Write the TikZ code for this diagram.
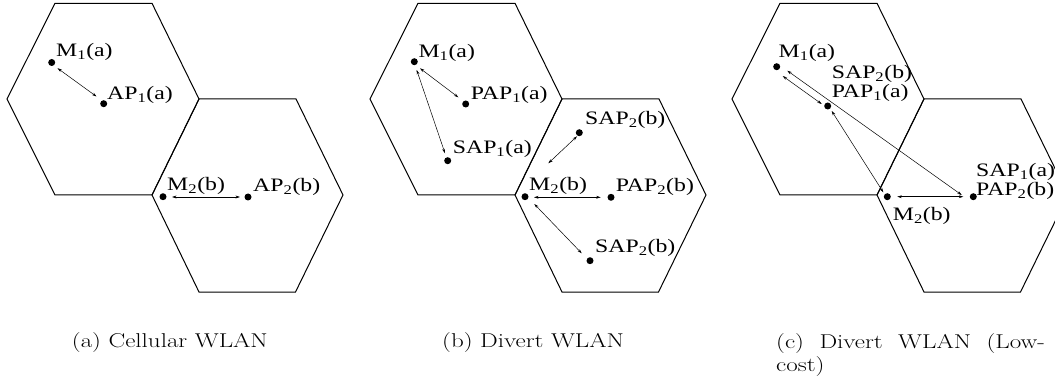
\documentclass[tikz,border=0pt]{standalone}
\usepackage{fontspec}
\usepackage{graphicx}
\usetikzlibrary{calc,arrows.meta}
\newfontfamily\tms{Liberation Serif}
\newcommand{\hsq}[1]{\scalebox{1.25}[1]{#1}}
\tikzset{
  hexa/.style={line width=1pt, line join=miter},
  dot/.style={circle, fill=black, inner sep=0pt, minimum size=7pt},
  lab/.style={anchor=base west, inner sep=0pt, font=\tms\fontsize{19}{21}\selectfont},
  captext/.style={anchor=base west, inner sep=0pt, font=\fontsize{20}{24}\selectfont},
  link/.style={line width=0.5pt, {Stealth[length=4.5pt,width=2.8pt]}-{Stealth[length=4.5pt,width=2.8pt]}},
}
\newcommand{\hexpair}{%
  \draw[hexa] (55,3.3) -- (152,3.3) -- (199,99) -- (152,195) -- (55,195) -- (7,99) -- cycle;
  \draw[hexa] (199,99) -- (296,99) -- (343,195) -- (295.5,292) -- (199,292) -- (152,195) -- cycle;
}
\begin{document}
\begin{tikzpicture}[x=1pt,y=-1pt]
\clip (0,0) rectangle (1055,382);
\fill[white] (0,0) rectangle (1055,382);

% ---------- panel (a)
\hexpair
\node[dot] (m1a) at (51.7,62.5) {};
\node[dot] (ap1a) at (103.7,103.7) {};
\node[dot] (m2a) at (163,196.7) {};
\node[dot] (ap2a) at (248,197) {};
\node[lab] (lm1a) at (56,57) {\hsq{M\textsubscript{1}(a)}};
\node[lab] (lap1a) at (107,100) {\hsq{AP\textsubscript{1}(a)}};
\node[lab] (lm2a) at (167,191) {\hsq{M\textsubscript{2}(b)}};
\node[lab] (lap2a) at (253,191.5) {\hsq{AP\textsubscript{2}(b)}};
\draw[link] ($(m1a)+(5.8,5.7)$) -- ($(ap1a)+(-7.2,-7.2)$);
\draw[link] ($(m2a)+(9,0.3)$) -- ($(ap2a)+(-8,0)$);

% ---------- panel (b)
\begin{scope}[xshift=363pt]
\hexpair
\end{scope}
\node[dot] (m1b) at (414.3,61.7) {};
\node[dot] (p1b) at (465.7,104) {};
\node[dot] (s1b) at (447.7,160.7) {};
\node[dot] (s2tb) at (579.3,132.7) {};
\node[dot] (m2b) at (525,196.7) {};
\node[dot] (p2b) at (611,197.3) {};
\node[dot] (s2bb) at (590,260.7) {};
\node[lab] (lm1b) at (418.3,57.3) {\hsq{M\textsubscript{1}(a)}};
\node[lab] (lp1b) at (470.7,99.3) {\hsq{PAP\textsubscript{1}(a)}};
\node[lab] (ls1b) at (452.7,154) {\hsq{SAP\textsubscript{1}(a)}};
\node[lab] (ls2tb) at (585,125) {\hsq{SAP\textsubscript{2}(b)}};
\node[lab] (lm2b) at (529,190.7) {\hsq{M\textsubscript{2}(b)}};
\node[lab] (lp2b) at (615.7,191.7) {\hsq{PAP\textsubscript{2}(b)}};
\node[lab] (ls2bb) at (595,252.3) {\hsq{SAP\textsubscript{2}(b)}};
\draw[link] ($(m1b)+(5.7,6.6)$) -- ($(p1b)+(-7.4,-6.7)$);
\draw[link] ($(m1b)+(2.4,8.3)$) -- ($(s1b)+(-2.7,-7.4)$);
\draw[link] ($(m2b)+(23.3,-33.4)$) -- ($(s2tb)+(-2.3,3.6)$);
\draw[link] ($(m2b)+(9,0.6)$) -- ($(p2b)+(-10.3,0)$);
\draw[link] ($(m2b)+(9.3,7.3)$) -- ($(s2bb)+(-8.3,-7.4)$);

% ---------- panel (c)
\begin{scope}[xshift=725pt]
\hexpair
\end{scope}
\node[dot] (m1c) at (776.7,66.7) {};
\node[dot] (p1c) at (827.7,106) {};
\node[dot] (m2c) at (887.3,196.7) {};
\node[dot] (p2c) at (973.3,196.7) {};
\node[lab] (lm1c) at (778.5,58) {\hsq{M\textsubscript{1}(a)}};
\node[lab] (ls2c) at (831.7,78.3) {\hsq{SAP\textsubscript{2}(b)}};
\node[lab] (lp1c) at (831.7,98) {\hsq{PAP\textsubscript{1}(a)}};
\node[lab] (ls1c) at (976,176.7) {\hsq{SAP\textsubscript{1}(a)}};
\node[lab] (lp2c) at (976,195.5) {\hsq{PAP\textsubscript{2}(b)}};
\node[lab] (lm2c) at (892.7,221) {\hsq{M\textsubscript{2}(b)}};
\draw[link] ($(m1c)+(6,9.3)$) -- ($(p1c)+(-6,-2)$);
\draw[link] ($(m1c)+(10.6,4)$) -- ($(p2c)+(-11.6,-1.7)$);
\draw[link] ($(p1c)+(4,5)$) -- ($(m2c)+(-4,-4.4)$);
\draw[link] ($(m2c)+(10,0)$) -- ($(p2c)+(-10,0)$);

% ---------- captions
\node[captext] (capa) at (71.7,347.5) {\hsq{(a) Cellular WLAN}};
\node[captext] (capb) at (442,347.5) {\hsq{(b) Divert WLAN}};
\node[captext] (capc) at (776,348) {\hsq{\makebox[215pt][s]{(c) Divert WLAN (Low-}}};
\node[captext] (capc2) at (776,371.5) {\hsq{cost)}};
\end{tikzpicture}
\end{document}
